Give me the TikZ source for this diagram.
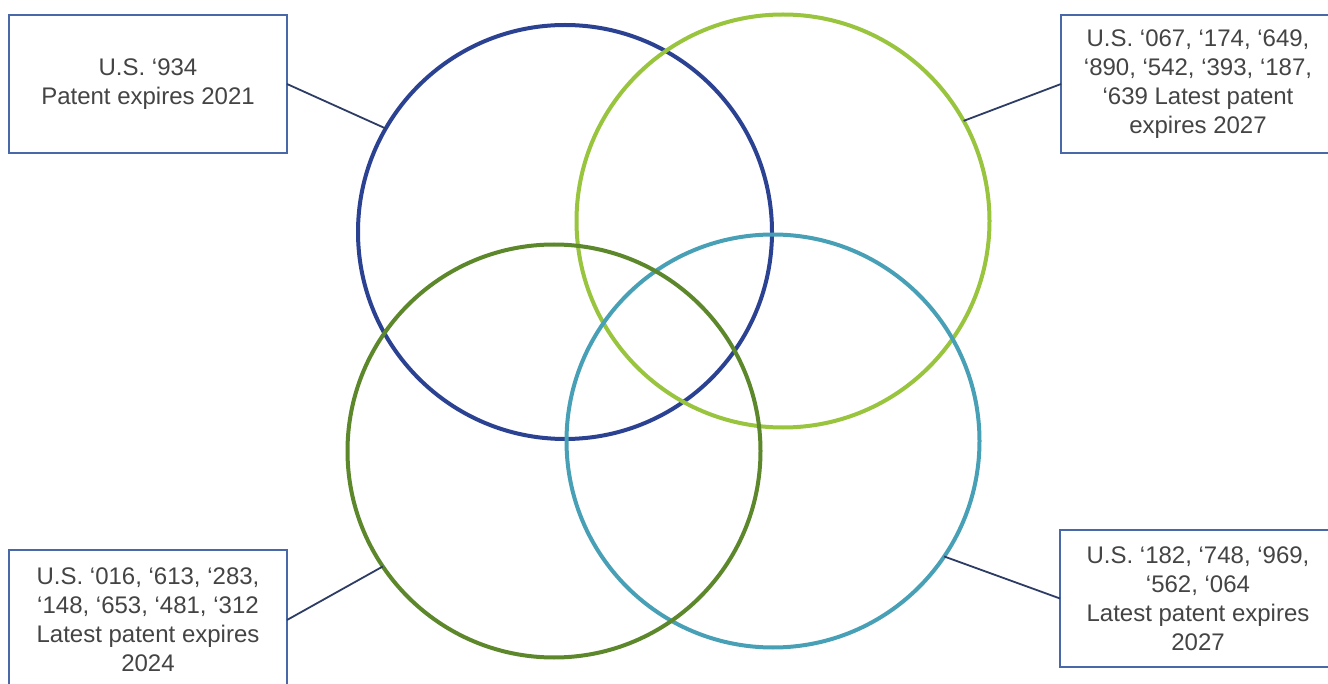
\documentclass[tikz,border=0pt]{standalone}
\usepackage{fontspec}
\setmainfont{Liberation Sans}
\definecolor{cblue}{RGB}{42,66,145}
\definecolor{clgreen}{RGB}{152,196,62}
\definecolor{cdgreen}{RGB}{92,135,42}
\definecolor{cteal}{RGB}{72,160,182}
\definecolor{boxborder}{RGB}{72,104,168}
\definecolor{connline}{RGB}{45,60,100}
\definecolor{txt}{RGB}{68,68,68}
\begin{document}
\begin{tikzpicture}[x=1pt,y=-1pt,
  ring/.style={circle,draw,line width=4pt,minimum size=#1,inner sep=0pt,outer sep=0pt},
  labelbox/.style={draw=boxborder,line width=2.6pt,fill=white,align=center,text=txt,
    font=\fontsize{24}{29}\selectfont,inner sep=0pt,outer sep=0pt},
  conn/.style={draw=connline,line width=1.8pt}]
\fill[white] (0,0) rectangle (1328,684);
\useasboundingbox (0,0) rectangle (1328,684);
% circles
\node[ring=414pt,draw=cblue] (blue) at (565,232) {};
\node[ring=413pt,draw=clgreen] (lgreen) at (783,221) {};
\node[ring=413pt,draw=cteal] (teal) at (773,441) {};
\node[ring=413pt,draw=cdgreen] (dgreen) at (554,451) {};
% boxes
\node[labelbox,minimum width=278pt,minimum height=138pt] (tl) at (148,84)
  {U.S. ‘934\\Patent expires 2021};
\node[labelbox,minimum width=274pt,minimum height=138pt] (tr) at (1198,84)
  {U.S. ‘067, ‘174, ‘649,\\‘890, ‘542, ‘393, ‘187,\\‘639 Latest patent\\expires 2027};
\node[labelbox,minimum width=278pt,minimum height=140pt] (bl) at (148,620)
  {U.S. ‘016, ‘613, ‘283,\\‘148, ‘653, ‘481, ‘312\\Latest patent expires\\2024};
\node[labelbox,minimum width=276pt,minimum height=137pt] (br) at (1198,598.5)
  {U.S. ‘182, ‘748, ‘969,\\‘562, ‘064\\Latest patent expires\\2027};
% connectors
\draw[conn] (tl.east) -- (blue.150);
\draw[conn] (tr.west) -- (lgreen.29);
\draw[conn] (bl.east) -- (dgreen.214);
\draw[conn] (br.west) -- (teal.-34);
\end{tikzpicture}
\end{document}
